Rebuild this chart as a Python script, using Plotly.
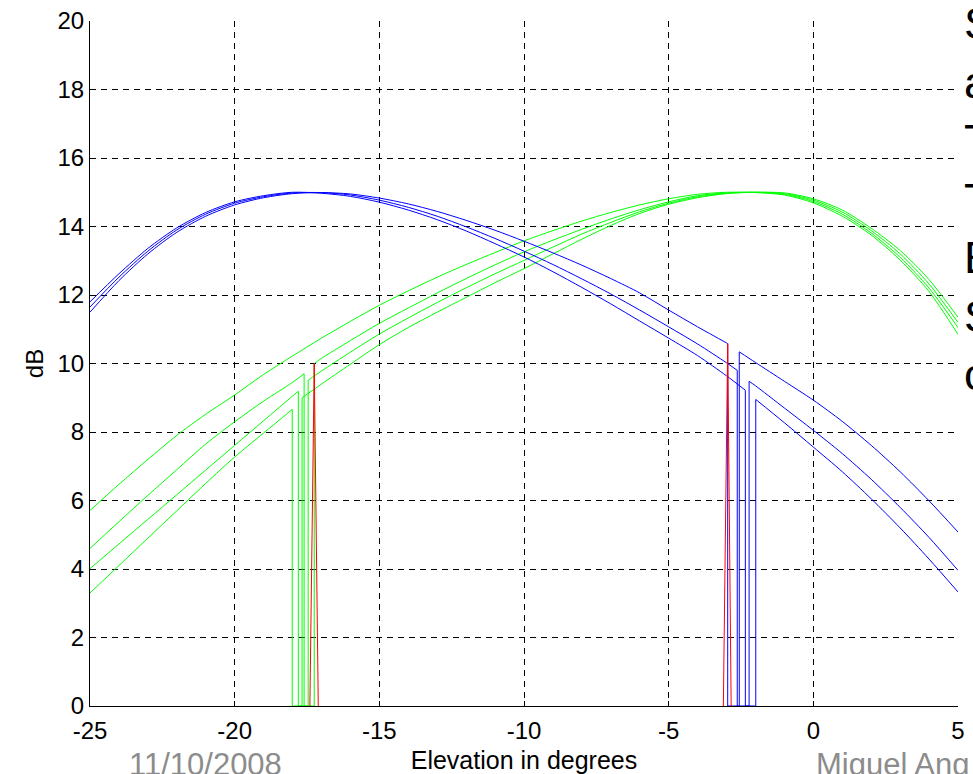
import plotly.graph_objects as go

# Elevation sample points (degrees)
elev_deg = [-25, -24, -23, -22, -21, -20, -19, -18, -17, -16, -15, -14, -13, -12, -11,
            -10, -9, -8, -7, -6, -5, -4, -3, -2, -1, 0, 1, 2, 3, 4, 5]

# Blue beams (dB); None = sample falls inside the dropout
blue_1_db = [11.50, 12.42, 13.20, 13.83, 14.30, 14.63, 14.84, 14.96, 14.99, 14.95, 14.83,
             14.66, 14.44, 14.18, 13.89, 13.57, 13.23, 12.87, 12.48, 12.06, 11.56, 11.07,
             10.60, 10.03, 9.48, 8.93, 8.31, 7.61, 6.84, 5.99, 5.08]
blue_2_db = [11.65, 12.52, 13.28, 13.90, 14.36, 14.68, 14.87, 14.98, 14.99, 14.92, 14.77,
             14.56, 14.30, 13.99, 13.65, 13.28, 12.89, 12.47, 12.03, 11.56, 11.07, 10.57,
             10.02, 9.35, 8.70, 8.05, 7.37, 6.62, 5.80, 4.92, 3.96]
blue_3_db = [11.80, 12.62, 13.36, 13.96, 14.41, 14.72, 14.90, 15.00, 14.97, 14.88, 14.71,
             14.48, 14.20, 13.87, 13.50, 13.11, 12.68, 12.22, 11.74, 11.24, 10.74, 10.23,
             9.64, None, 8.27, 7.56, 6.84, 6.05, 5.20, 4.29, 3.33]

# Green beams (dB)
green_1_db = [5.71, 6.47, 7.20, 7.90, 8.52, 9.08, 9.68, 10.22, 10.74, 11.23, 11.70,
              12.12, 12.52, 12.89, 13.24, 13.58, 13.88, 14.16, 14.41, 14.63, 14.81, 14.94,
              15.00, 14.99, 14.92, 14.69, 14.30, 13.75, 13.02, 12.10, 10.85]
green_2_db = [4.60, 5.38, 6.15, 6.90, 7.65, 8.30, 8.90, 9.45, 10.15, 10.67, 11.17,
              11.62, 12.06, 12.48, 12.88, 13.26, 13.60, 13.92, 14.22, 14.49, 14.72, 14.90,
              14.98, 15.00, 14.94, 14.73, 14.36, 13.81, 13.10, 12.20, 11.05]
green_3_db = [4.01, 4.73, 5.45, 6.17, 6.89, 7.61, 8.33, 9.05, 9.78, 10.33, 10.86,
              11.33, 11.78, 12.21, 12.62, 13.01, 13.40, 13.78, 14.12, 14.43, 14.68, 14.87,
              14.97, 15.00, 14.96, 14.77, 14.42, 13.88, 13.20, 12.32, 11.20]
green_4_db = [3.30, 4.10, 4.90, 5.70, 6.50, 7.27, 7.97, None, 9.40, 9.98, 10.55,
              11.05, 11.50, 11.93, 12.36, 12.77, 13.20, 13.63, 14.03, 14.38, 14.65, 14.84,
              14.96, 15.00, 14.98, 14.81, 14.48, 13.95, 13.30, 12.45, 11.35]

# Dropouts: [elevation at drop, level before drop, elevation at recovery, level after]
blue_1_gap = [-2.96, 10.58, -2.56, 10.34]
blue_2_gap = [-2.63, 9.80, -2.22, 9.48]
blue_3_gap = [-2.35, 9.22, -1.99, 8.95]
green_2_gap = [-17.60, 9.70, -17.25, 10.00]
green_3_gap = [-17.80, 9.19, -17.46, 9.51]
green_4_gap = [-18.01, 8.66, -17.67, 9.00]

# Red spikes
red_a_deg = [-17.40, -17.25, -17.11]
red_a_db = [0, 10.00, 0]
red_b_deg = [-3.11, -2.96, -2.84]
red_b_db = [0, 10.58, 0]

x_ticks = [-25, -20, -15, -10, -5, 0, 5]
x_tick_text = ["-25", "-20", "-15", "-10", "-5", "0", "5"]
y_ticks = [0, 2, 4, 6, 8, 10, 12, 14, 16, 18, 20]

side_lines = ["S", "a", "T", "T", "E", "S", "c"]
footer_date = "11/10/2008"
footer_author = "Miguel Ang"

W, H = 973, 774
ML, MR, MT, MB = 90, 15, 21, 68
PW, PH = W - ML - MR, H - MT - MB


def px_x(px):
    return (px - ML) / PW


def px_y(py):
    return (H - MB - py) / PH


def beam_pieces(xs, ys, gap=None):
    """Split a beam into smooth runs and the straight dropout between them."""
    pts = [(x, y) for x, y in zip(xs, ys) if y is not None]
    if gap is None:
        return [pts], []
    x_drop, v_drop, x_rise, v_rise = gap
    left = [p for p in pts if p[0] < x_drop] + [(x_drop, v_drop)]
    right = [(x_rise, v_rise)] + [p for p in pts if p[0] > x_rise]
    notch = [(x_drop, v_drop), (x_drop, 0), (x_rise, 0), (x_rise, v_rise)]
    return [left, right], notch


fig = go.Figure()

series = [
    (green_1_db, None, "#00ff00"),
    (green_2_db, green_2_gap, "#00ff00"),
    (green_3_db, green_3_gap, "#00ff00"),
    (green_4_db, green_4_gap, "#00ff00"),
    (blue_1_db, blue_1_gap, "#0000ff"),
    (blue_2_db, blue_2_gap, "#0000ff"),
    (blue_3_db, blue_3_gap, "#0000ff"),
]
for vals, gap, col in series:
    runs, notch = beam_pieces(elev_deg, vals, gap)
    for run in runs:
        fig.add_trace(go.Scatter(x=[p[0] for p in run], y=[p[1] for p in run],
                                 mode="lines",
                                 line=dict(color=col, width=1, shape="spline", smoothing=0.8),
                                 showlegend=False, hoverinfo="skip"))
    if notch:
        fig.add_trace(go.Scatter(x=[p[0] for p in notch], y=[p[1] for p in notch],
                                 mode="lines", line=dict(color=col, width=1),
                                 showlegend=False, hoverinfo="skip"))

for rx, ry in [(red_a_deg, red_a_db), (red_b_deg, red_b_db)]:
    fig.add_trace(go.Scatter(x=rx, y=ry, mode="lines",
                             line=dict(color="#ff0000", width=1), showlegend=False,
                             hoverinfo="skip"))

font_family = "Liberation Sans, Arial, Helvetica, sans-serif"
axis_common = dict(
    automargin=False,
    showgrid=True, gridcolor="#000000", gridwidth=1, griddash="6px,5px",
    showline=True, linecolor="#000000", linewidth=1, mirror=False,
    ticks="inside", ticklen=5, tickwidth=1, tickcolor="#000000",
    zeroline=False, tickfont=dict(family=font_family, size=24, color="#000000"),
    fixedrange=True,
)

fig.update_layout(
    width=W, height=H,
    margin=dict(l=ML, r=MR, t=MT, b=MB, pad=0),
    paper_bgcolor="white", plot_bgcolor="white",
    showlegend=False,
    xaxis=dict(range=[-25, 5], tickmode="array", tickvals=x_ticks, ticktext=x_tick_text,
               ticklabelstandoff=3,
               title=dict(text="Elevation in degrees", standoff=9,
                          font=dict(family=font_family, size=25, color="#000000")),
               **axis_common),
    yaxis=dict(range=[0, 20], tickmode="array", tickvals=y_ticks,
               title=dict(text="dB", standoff=7,
                          font=dict(family=font_family, size=24, color="#000000")),
               **axis_common),
)

# Slide text partially visible at the right edge
fig.add_annotation(text="<br>".join(side_lines), xref="paper", yref="paper",
                   x=px_x(962), y=px_y(199), xanchor="left", yanchor="middle",
                   align="left", showarrow=False,
                   font=dict(family=font_family, size=45, color="#000000"))

# Footer
fig.add_annotation(text=footer_date, xref="paper", yref="paper",
                   x=px_x(127), y=px_y(764), xanchor="left", yanchor="middle",
                   showarrow=False, font=dict(family=font_family, size=31, color="#8c8c8c"))
fig.add_annotation(text=footer_author, xref="paper", yref="paper",
                   x=px_x(814), y=px_y(764), xanchor="left", yanchor="middle",
                   showarrow=False, font=dict(family=font_family, size=31, color="#8c8c8c"))

fig.write_html("out.html")
